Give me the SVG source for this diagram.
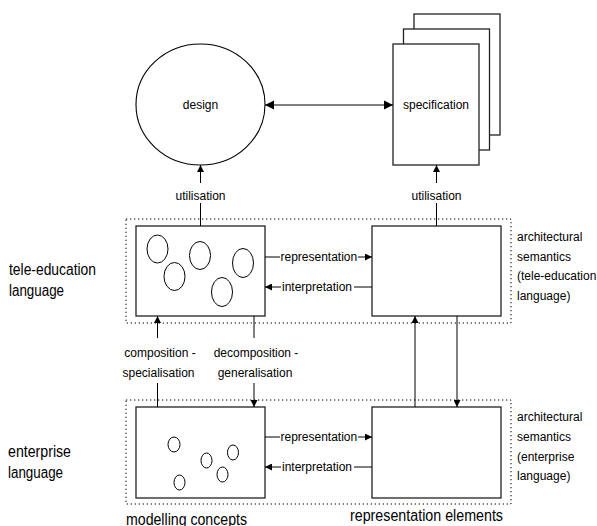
<svg xmlns="http://www.w3.org/2000/svg" width="597" height="526" viewBox="0 0 597 526">
  <defs>
    <marker id="arr" viewBox="0 0 10 10" refX="10" refY="5" markerWidth="7" markerHeight="7" markerUnits="userSpaceOnUse" orient="auto-start-reverse">
      <path d="M0,0 L10,5 L0,10 Z" fill="#000"/>
    </marker>
    <marker id="arrBig" viewBox="0 0 10 10" refX="10" refY="5" markerWidth="9" markerHeight="10" markerUnits="userSpaceOnUse" orient="auto-start-reverse">
      <path d="M0,0 L10,5 L0,10 Z" fill="#000"/>
    </marker>
  </defs>
  <style>
    text { font-family: "Liberation Sans", Arial, sans-serif; fill: #000; }
    .s12 { font-size: 12px; }
    .s16 { font-size: 16px; }
    .mid { text-anchor: middle; }
    .box { fill: #fff; stroke: #222; stroke-width: 1.3; }
    .ring { fill: #fff; stroke: #000; stroke-width: 1.1; }
    .small { fill: none; stroke: #000; stroke-width: 1; }
    .dot { fill: none; stroke: #000; stroke-width: 1; stroke-dasharray: 1.3 2.7; }
    .con { fill: none; stroke: #000; stroke-width: 1; }
  </style>
  <rect width="597" height="526" fill="#fff"/>

  <!-- language layers (dotted frames) -->
  <g id="tele-education-layer">
    <rect class="dot" x="126" y="219" width="385" height="104"/>
    <text class="s16" x="9" y="274.5" textLength="87" lengthAdjust="spacingAndGlyphs">tele-education</text>
    <text class="s16" x="9" y="296" textLength="55" lengthAdjust="spacingAndGlyphs">language</text>
  </g>
  <g id="enterprise-layer">
    <rect class="dot" x="126" y="400" width="385" height="104"/>
    <text class="s16" x="8" y="457" textLength="63" lengthAdjust="spacingAndGlyphs">enterprise</text>
    <text class="s16" x="8" y="478" textLength="55" lengthAdjust="spacingAndGlyphs">language</text>
  </g>

  <!-- design -->
  <g id="design">
    <ellipse class="ring" cx="200.5" cy="104.5" rx="64.5" ry="60.5"/>
    <text class="s12 mid" x="200.5" y="109">design</text>
  </g>

  <!-- specification (stack of pages) -->
  <g id="specification">
    <rect class="box" x="414" y="14" width="86" height="121"/>
    <rect class="box" x="403.5" y="29" width="86" height="121"/>
    <rect class="box" x="393" y="44" width="86" height="121"/>
    <text class="s12 mid" x="436" y="109">specification</text>
  </g>

  <!-- tele-education modelling concepts -->
  <g id="tele-concepts">
    <rect class="box" x="136" y="226" width="129" height="90"/>
    <ellipse class="small" cx="157.5" cy="249" rx="10.5" ry="14"/>
    <ellipse class="small" cx="174.5" cy="276.5" rx="10.5" ry="14"/>
    <ellipse class="small" cx="200" cy="255.5" rx="10.5" ry="14"/>
    <ellipse class="small" cx="243" cy="263" rx="10.5" ry="14.5"/>
    <ellipse class="small" cx="222" cy="292" rx="10.5" ry="14.5"/>
  </g>

  <!-- tele-education representation elements -->
  <g id="tele-elements">
    <rect class="box" x="372" y="226" width="129" height="90"/>
    <text class="s12" x="517" y="241">architectural</text>
    <text class="s12" x="517" y="261">semantics</text>
    <text class="s12" x="517" y="280">(tele-education</text>
    <text class="s12" x="517" y="300">language)</text>
  </g>

  <!-- enterprise modelling concepts -->
  <g id="enterprise-concepts">
    <rect class="box" x="136" y="407" width="129" height="91"/>
    <ellipse class="small" cx="174" cy="444.5" rx="6" ry="7.5"/>
    <ellipse class="small" cx="206.5" cy="460.5" rx="5.5" ry="7.5"/>
    <ellipse class="small" cx="233" cy="452.5" rx="5.5" ry="7.5"/>
    <ellipse class="small" cx="222.5" cy="474.5" rx="5.5" ry="7.5"/>
    <ellipse class="small" cx="179.5" cy="482.5" rx="5.5" ry="7.5"/>
    <text class="s16" x="126" y="524.5" textLength="121" lengthAdjust="spacingAndGlyphs">modelling concepts</text>
  </g>

  <!-- enterprise representation elements -->
  <g id="enterprise-elements">
    <rect class="box" x="372" y="407" width="129" height="91"/>
    <text class="s12" x="517" y="421">architectural</text>
    <text class="s12" x="517" y="441">semantics</text>
    <text class="s12" x="517" y="461">(enterprise</text>
    <text class="s12" x="517" y="480">language)</text>
    <text class="s16" x="350" y="521" textLength="153" lengthAdjust="spacingAndGlyphs">representation elements</text>
  </g>

  <!-- connectors -->
  <g id="connectors">
    <!-- design <-> specification -->
    <line class="con" x1="265" y1="105" x2="393" y2="105" marker-start="url(#arrBig)" marker-end="url(#arrBig)"/>

    <!-- utilisation -->
    <line class="con" x1="200.5" y1="183" x2="200.5" y2="165" marker-end="url(#arr)"/>
    <text class="s12 mid" x="200.5" y="200">utilisation</text>
    <line class="con" x1="200.5" y1="203" x2="200.5" y2="226"/>

    <line class="con" x1="436.5" y1="183" x2="436.5" y2="165" marker-end="url(#arr)"/>
    <text class="s12 mid" x="436.5" y="200">utilisation</text>
    <line class="con" x1="436.5" y1="203" x2="436.5" y2="226"/>

    <!-- tele-education: representation / interpretation -->
    <line class="con" x1="265" y1="257" x2="280" y2="257"/>
    <text class="s12" x="280.5" y="260.5">representation</text>
    <line class="con" x1="358" y1="257" x2="372" y2="257" marker-end="url(#arr)"/>
    <line class="con" x1="281" y1="287" x2="265" y2="287" marker-end="url(#arr)"/>
    <text class="s12" x="282" y="290.5">interpretation</text>
    <line class="con" x1="354" y1="287" x2="372" y2="287"/>

    <!-- enterprise: representation / interpretation -->
    <line class="con" x1="265" y1="437" x2="280" y2="437"/>
    <text class="s12" x="280.5" y="440.5">representation</text>
    <line class="con" x1="358" y1="437" x2="372" y2="437" marker-end="url(#arr)"/>
    <line class="con" x1="281" y1="467" x2="265" y2="467" marker-end="url(#arr)"/>
    <text class="s12" x="282" y="470.5">interpretation</text>
    <line class="con" x1="354" y1="467" x2="372" y2="467"/>

    <!-- composition - specialisation -->
    <line class="con" x1="157.5" y1="338" x2="157.5" y2="316" marker-end="url(#arr)"/>
    <text class="s12 mid" x="160" y="357">composition -</text>
    <text class="s12 mid" x="158.5" y="377">specialisation</text>
    <line class="con" x1="157.5" y1="383" x2="157.5" y2="407"/>

    <!-- decomposition - generalisation -->
    <line class="con" x1="254" y1="316" x2="254" y2="338"/>
    <text class="s12 mid" x="256" y="357">decomposition -</text>
    <text class="s12 mid" x="255" y="377">generalisation</text>
    <line class="con" x1="254" y1="383" x2="254" y2="407" marker-end="url(#arr)"/>

    <!-- between representation elements -->
    <line class="con" x1="415" y1="407" x2="415" y2="316" marker-end="url(#arr)"/>
    <line class="con" x1="457" y1="316" x2="457" y2="407" marker-end="url(#arr)"/>
  </g>
</svg>
